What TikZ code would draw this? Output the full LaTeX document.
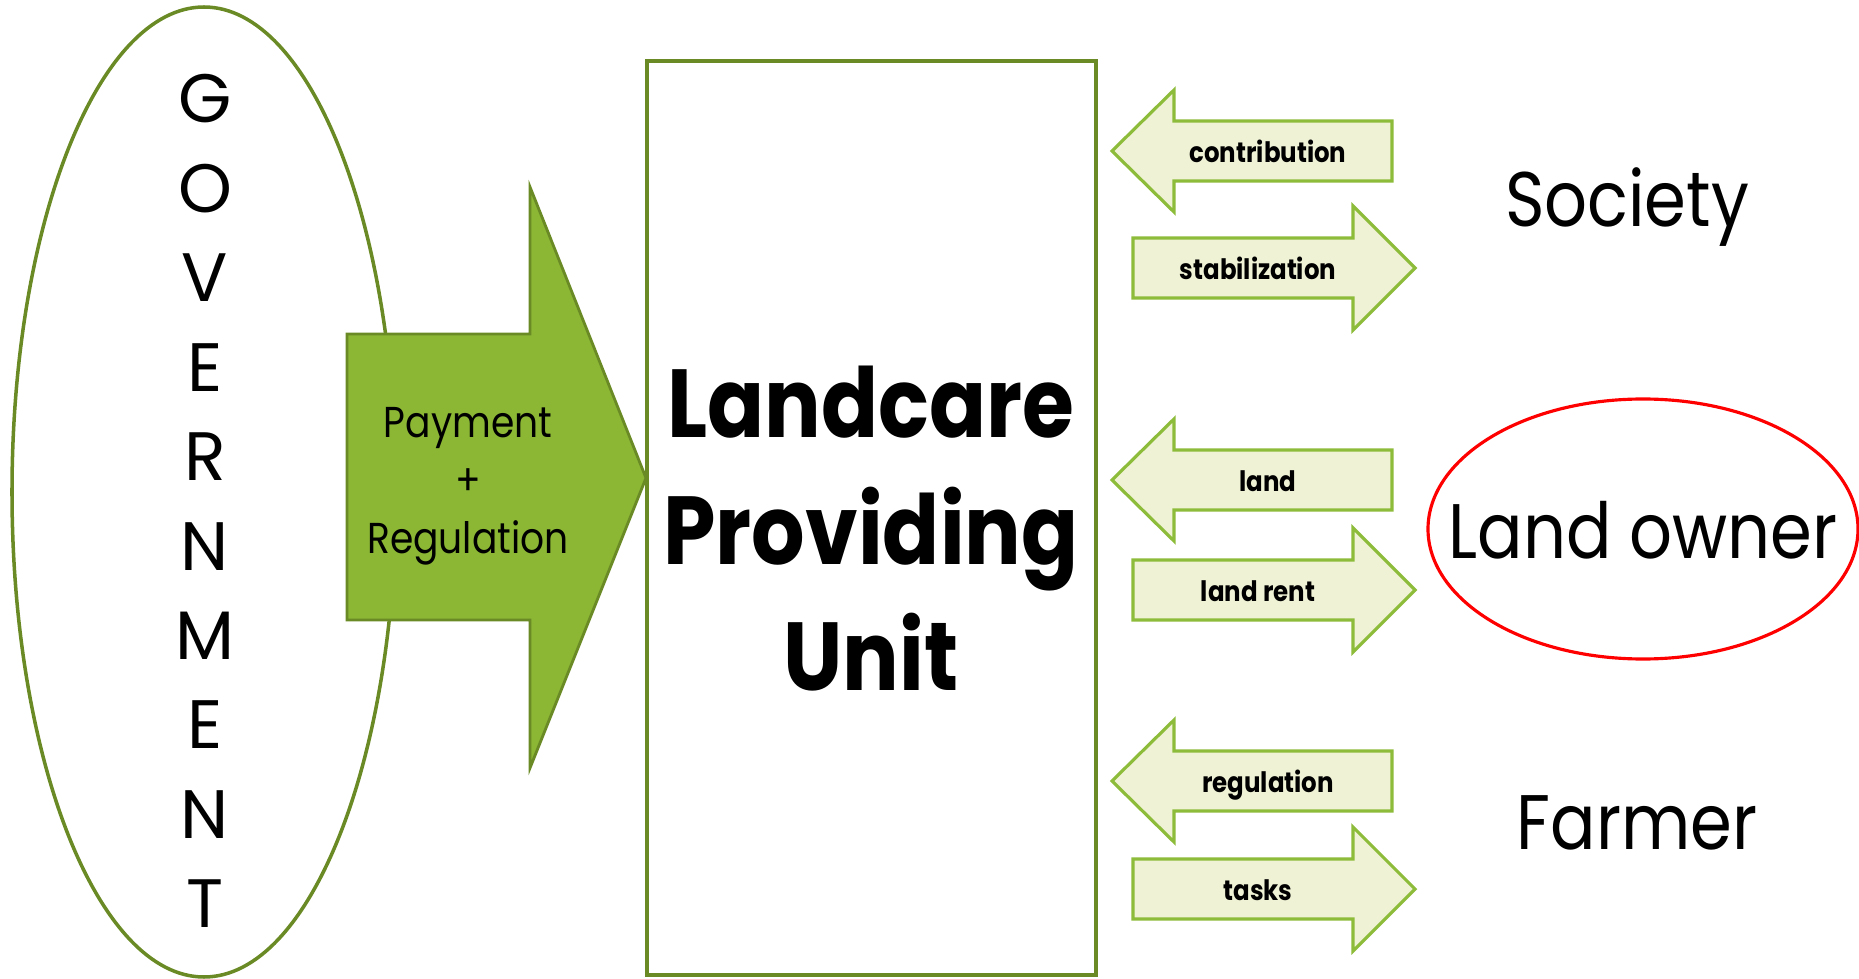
\documentclass[tikz,border=0pt]{standalone}
\usepackage{fontspec}
\setmainfont{Poppins}[FakeStretch=0.87]
\newfontfamily\govfont{Poppins}
\usetikzlibrary{shapes.geometric}

\definecolor{govgreen}{RGB}{106,138,38}
\definecolor{arrowgreen}{RGB}{139,183,52}
\definecolor{leafline}{RGB}{141,187,58}
\definecolor{paleleaf}{RGB}{239,242,212}

\tikzset{
  sidearrow/.style={draw=leafline, fill=paleleaf, line width=0.9pt, line join=miter},
  sidelabel/.style={font=\bfseries\fontsize{8}{9}\selectfont, anchor=base},
  govletter/.style={font=\govfont\fontsize{19.5}{20}\selectfont, anchor=base},
  party/.style={font=\fontsize{22}{24}\selectfont, anchor=base},
}

\begin{document}
\begin{tikzpicture}
    \useasboundingbox (0,0) rectangle (18.59,9.78);

    % 1. Government ellipse and its letters
    \node[draw=govgreen, line width=1pt, ellipse, minimum width=3.84cm,
          minimum height=9.70cm, inner sep=0pt] (gov) at (2.04,4.86) {};
    \foreach \l [count=\i] in {G,O,V,E,R,N,M,E,N,T}
        \node[govletter] (gov\i) at (2.05,{8.55-0.894*(\i-1)}) {\l};

    % 2. Big arrow: payment and regulation
    \draw[draw=govgreen, fill=arrowgreen, line width=0.8pt]
        (3.47,6.44) -- (5.30,6.44) -- (5.30,7.91) -- (6.46,5.00) --
        (5.30,2.10) -- (5.30,3.58) -- (3.47,3.58) -- cycle;
    \node[align=center, font=\fontsize{12.3}{16.5}\selectfont] (pay) at (4.68,4.92)
        {Payment\\+\\Regulation};

    % 3. The unit in the middle
    \node[draw=govgreen, line width=1.1pt, minimum width=4.49cm, minimum height=9.14cm,
          inner sep=0pt] (lpu) at (8.715,4.60) {};
    \node[align=center, font=\bfseries\fontsize{27.5}{36}\selectfont] (lpulabel)
        at (8.71,4.49) {Landcare\\Providing\\Unit};

    % 4. Exchange arrows, left pointing
    \foreach \yc/\txt/\nm in {8.27/contribution/contrib, 4.98/land/land, 1.97/regulation/regul} {
        \draw[sidearrow] (11.12,\yc) -- (11.74,\yc+0.61) -- (11.74,\yc+0.30) --
            (13.92,\yc+0.30) -- (13.92,\yc-0.30) -- (11.74,\yc-0.30) --
            (11.74,\yc-0.61) -- cycle;
        \node[sidelabel] (\nm) at (12.68,\yc-0.115) {\txt};
    }
    % right pointing
    \foreach \yc/\txt/\nm in {7.10/stabilization/stab, 3.88/land rent/rent, 0.89/tasks/tasks} {
        \draw[sidearrow] (11.33,\yc+0.30) -- (13.53,\yc+0.30) -- (13.53,\yc+0.62) --
            (14.15,\yc) -- (13.53,\yc-0.62) -- (13.53,\yc-0.30) --
            (11.33,\yc-0.30) -- cycle;
        \node[sidelabel] (\nm) at (12.58,\yc-0.115) {\txt};
    }

    % 5. Society, land owner, farmer
    \node[party] (society) at (16.27,7.51) {Society};
    \node[draw=red, line width=0.9pt, ellipse, minimum width=4.30cm,
          minimum height=2.60cm, inner sep=0pt] (owner) at (16.43,4.49) {};
    \node[party] (ownerlabel) at (16.43,4.20) {Land owner};
    \node[party] (farmer) at (16.37,1.29) {Farmer};
\end{tikzpicture}
\end{document}
